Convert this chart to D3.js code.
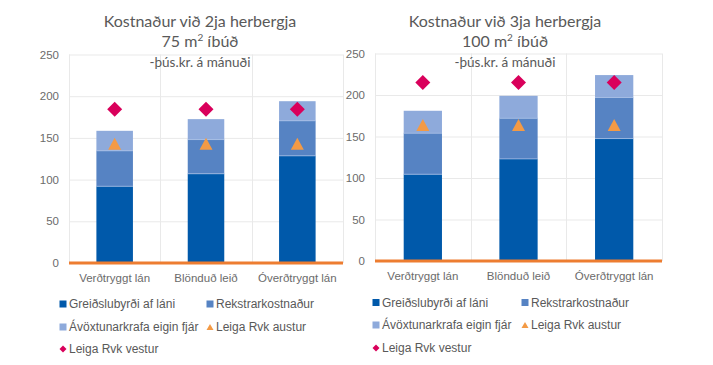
<!DOCTYPE html>
<html>
<head>
<meta charset="utf-8">
<script src="https://cdn.jsdelivr.net/npm/d3@7/dist/d3.min.js"></script>
<style>
  html, body { margin: 0; padding: 0; background: #fff; }
  svg { display: block; }
</style>
</head>
<body>
<svg id="chart" width="713" height="365"></svg>
<script>
// ---------- data ----------
const categories = ["Verðtryggt lán", "Blönduð leið", "Óverðtryggt lán"];
const seriesNames = ["Greiðslubyrði af láni", "Rekstrarkostnaður", "Ávöxtunarkrafa eigin fjár", "Leiga Rvk austur", "Leiga Rvk vestur"];
const yTicks = [0, 50, 100, 150, 200, 250];

// 2ja herbergja, 75 m²
const greidslu2 = [92, 107, 128.5];
const rekstur2 = [42.5, 41, 42];
const avoxtun2 = [24, 24.5, 23.5];
const austur2 = [143, 143, 143];
const vestur2 = [184.5, 184.5, 184.5];

// 3ja herbergja, 100 m²
const greidslu3 = [104.5, 123, 147.5];
const rekstur3 = [49.5, 49, 49.5];
const avoxtun3 = [27, 27, 27];
const austur3 = [164, 164, 164];
const vestur3 = [215, 215, 215];

const titles2 = ["Kostnaður við 2ja herbergja", "75 m", "2", " íbúð", "-þús.kr. á mánuði"];
const titles3 = ["Kostnaður við 3ja herbergja", "100 m", "2", " íbúð", "-þús.kr. á mánuði"];

// ---------- style ----------
const colors = ["#0059AA", "#5683C3", "#8EAADB", "#F39A45", "#D9005B"];
const textColor = "#595959";
const tickColor = "#6b6b6b";
const gridColor = "#E9E9E9";
const axisColor = "#ED7D31";

const svg = d3.select("#chart");

function drawChart(cfg) {
  const g = svg.append("g");
  const x = d3.scaleBand().domain(categories).range([cfg.left, cfg.right]).paddingInner(0.6).paddingOuter(0.3);
  const xb = d3.scaleBand().domain(categories).range([cfg.left, cfg.right]).padding(0);
  const y = d3.scaleLinear().domain([0, 250]).range([cfg.bottom, cfg.top]);

  // horizontal grid
  g.append("g").selectAll("line").data(yTicks).join("line")
    .attr("x1", cfg.left).attr("x2", cfg.right)
    .attr("y1", d => y(d) + 0.5).attr("y2", d => y(d) + 0.5)
    .attr("stroke", gridColor).attr("stroke-width", 1);
  // vertical grid at band edges
  const edges = categories.map(c => xb(c)).concat([cfg.right]);
  g.append("g").selectAll("line").data(edges).join("line")
    .attr("x1", d => Math.round(d) + 0.5).attr("x2", d => Math.round(d) + 0.5)
    .attr("y1", y(250)).attr("y2", y(0))
    .attr("stroke", gridColor).attr("stroke-width", 1);

  // y axis labels
  const yAxis = d3.axisLeft(y).tickValues(yTicks).tickSize(0).tickPadding(0);
  const ya = g.append("g").attr("transform", `translate(${cfg.tickX},0)`).call(yAxis);
  ya.select(".domain").remove();
  ya.selectAll("text").attr("fill", tickColor).style("font-family", "Liberation Sans, Arial, sans-serif").style("font-size", "11.5px");

  // stacked bars
  const stackData = categories.map((c, i) => ({ cat: c, a: cfg.s1[i], b: cfg.s2[i], c: cfg.s3[i] }));
  const stack = d3.stack().keys(["a", "b", "c"])(stackData);
  stack.forEach((layer, li) => {
    g.append("g").selectAll("rect").data(layer).join("rect")
      .attr("x", d => x(d.data.cat))
      .attr("width", x.bandwidth())
      .attr("y", d => y(d[1]))
      .attr("height", d => y(d[0]) - y(d[1]))
      .attr("fill", colors[li]);
  });
  // thin light separators between segments
  stack.slice(0, 2).forEach(layer => {
    g.append("g").selectAll("line").data(layer).join("line")
      .attr("x1", d => x(d.data.cat)).attr("x2", d => x(d.data.cat) + x.bandwidth())
      .attr("y1", d => y(d[1])).attr("y2", d => y(d[1]))
      .attr("stroke", "#A9C1E8").attr("stroke-width", 1).attr("opacity", 0.7);
  });

  // orange axis line
  g.append("line").attr("x1", cfg.left).attr("x2", cfg.right)
    .attr("y1", y(0)).attr("y2", y(0))
    .attr("stroke", axisColor).attr("stroke-width", 3);

  // x labels
  const xAxis = d3.axisBottom(xb).tickSize(0).tickPadding(0);
  const xa = g.append("g").attr("transform", `translate(0,${y(0) + 9})`).call(xAxis);
  xa.select(".domain").remove();
  xa.selectAll("text").attr("fill", tickColor).attr("dy", "0.9em")
    .style("font-family", "Liberation Sans, Arial, sans-serif").style("font-size", "11.5px");

  // triangles
  const triW = 13, triH = 12;
  g.append("g").selectAll("path").data(cfg.tri).join("path")
    .attr("transform", (d, i) => `translate(${xb(categories[i]) + xb.bandwidth() / 2},${y(d)})`)
    .attr("d", `M0,${-triH / 2}L${triW / 2},${triH / 2}L${-triW / 2},${triH / 2}Z`)
    .attr("fill", colors[3]);
  // diamonds
  const dr = 7.5;
  g.append("g").selectAll("path").data(cfg.dia).join("path")
    .attr("transform", (d, i) => `translate(${xb(categories[i]) + xb.bandwidth() / 2},${y(d)})`)
    .attr("d", `M0,${-dr}L${dr},0L0,${dr}L${-dr},0Z`)
    .attr("fill", colors[4]);

  // titles
  const tf = "Lato, 'Open Sans', sans-serif";
  g.append("text").attr("x", cfg.titleX).attr("y", 27).attr("text-anchor", "middle")
    .attr("fill", textColor).style("font-family", tf).style("font-size", "16px").text(cfg.titles[0]);
  const t2 = g.append("text").attr("x", cfg.titleX).attr("y", 47).attr("text-anchor", "middle")
    .attr("fill", textColor).style("font-family", tf).style("font-size", "16px");
  t2.append("tspan").text(cfg.titles[1]);
  t2.append("tspan").attr("dy", -6).style("font-size", "10px").text(cfg.titles[2]);
  t2.append("tspan").attr("dy", 6).text(cfg.titles[3]);
  g.append("text").attr("x", cfg.titleX).attr("y", 67).attr("text-anchor", "middle")
    .attr("fill", textColor).style("font-family", tf).style("font-size", "13.5px").text(cfg.titles[4]);

  // legend
  const lf = "Liberation Sans, Arial, sans-serif";
  const items = [
    { name: seriesNames[0], type: "sq", c: colors[0], col: 0, row: 0 },
    { name: seriesNames[1], type: "sq", c: colors[1], col: 1, row: 0 },
    { name: seriesNames[2], type: "sq", c: colors[2], col: 0, row: 1 },
    { name: seriesNames[3], type: "tri", c: colors[3], col: 1, row: 1 },
    { name: seriesNames[4], type: "dia", c: colors[4], col: 0, row: 2 }
  ];
  const lg = g.append("g");
  items.forEach(it => {
    const mx = cfg.legX[it.col], my = cfg.legY[it.row];
    if (it.type === "sq") {
      lg.append("rect").attr("x", mx - 3.5).attr("y", my - 3.5).attr("width", 7).attr("height", 7).attr("fill", it.c);
    } else if (it.type === "tri") {
      lg.append("path").attr("transform", `translate(${mx},${my})`).attr("d", "M0,-3L3.5,3L-3.5,3Z").attr("fill", it.c);
    } else {
      lg.append("path").attr("transform", `translate(${mx},${my})`).attr("d", "M0,-3.5L3.5,0L0,3.5L-3.5,0Z").attr("fill", it.c);
    }
    lg.append("text").attr("x", mx + 6).attr("y", my).attr("dy", "0.36em")
      .attr("fill", textColor).style("font-family", lf).style("font-size", "12px").text(it.name);
  });
}

drawChart({
  left: 69, right: 343, top: 54.5, bottom: 263, tickX: 59, titleX: 200,
  s1: greidslu2, s2: rekstur2, s3: avoxtun2, tri: austur2, dia: vestur2,
  titles: titles2, legX: [63, 210], legY: [304, 327, 349]
});
drawChart({
  left: 375, right: 662, top: 53.5, bottom: 261, tickX: 365, titleX: 505,
  s1: greidslu3, s2: rekstur3, s3: avoxtun3, tri: austur3, dia: vestur3,
  titles: titles3, legX: [376, 525], legY: [302.5, 325, 348]
});
</script>
</body>
</html>
